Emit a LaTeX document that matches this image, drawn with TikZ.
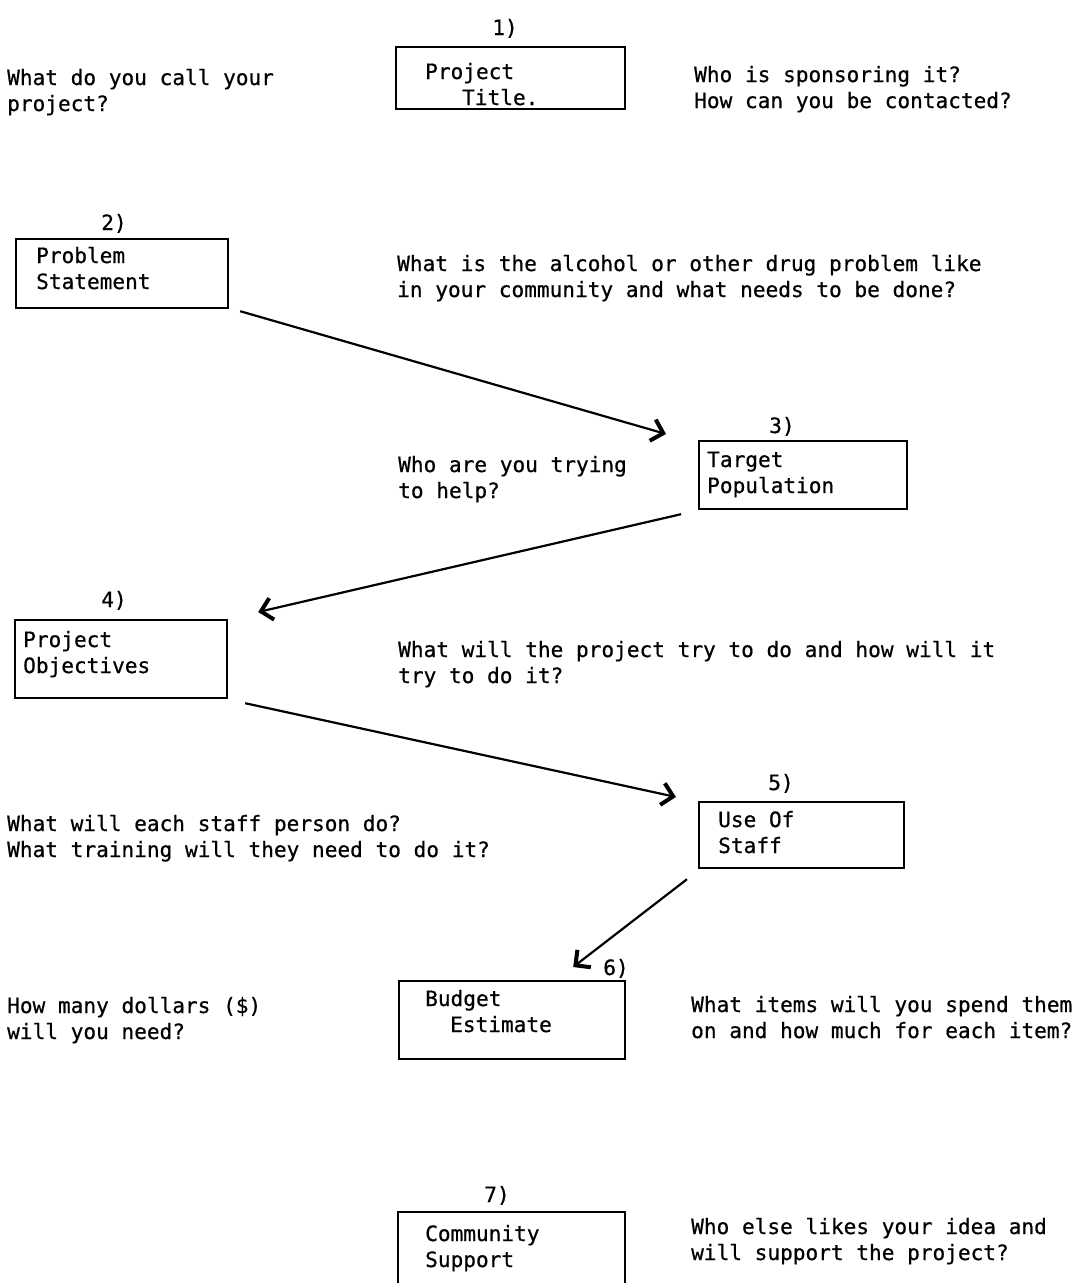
\documentclass[tikz,border=0pt]{standalone}
\usepackage{fontspec}
\setmainfont{DejaVu Sans Mono}[FakeBold=0.6]
\usetikzlibrary{arrows.meta,calc}
\begin{document}
\begin{tikzpicture}[x=1pt,y=-1pt,
  every node/.style={font=\fontsize{21.1}{26}\selectfont},
  box/.style={draw, line width=2.2pt, anchor=north west, inner sep=0pt},
  txt/.style={anchor=base west, inner sep=0pt, align=left},
  num/.style={anchor=base, inner sep=0pt},
  arr/.style={line width=2.2pt, -{Straight Barb[length=11pt,width=22pt,line width=4pt]}}]
\useasboundingbox (0,0) rectangle (1078,1283);
% boxes
\node[box, minimum width=229pt, minimum height=62pt] (b1) at (395,46) {};
\node[box, minimum width=212pt, minimum height=69pt] (b2) at (15,238) {};
\node[box, minimum width=208pt, minimum height=68pt] (b3) at (698,440) {};
\node[box, minimum width=212pt, minimum height=78pt] (b4) at (14,619) {};
\node[box, minimum width=205pt, minimum height=66pt] (b5) at (698,801) {};
\node[box, minimum width=226pt, minimum height=78pt] (b6) at (398,980) {};
\node[box, minimum width=227pt, minimum height=95pt] (b7) at (397,1211) {};
% numbers
\node[num] (n1) at (505,35) {1)};
\node[num] (n2) at (114,230) {2)};
\node[num] (n3) at (782,433) {3)};
\node[num] (n4) at (114,607) {4)};
\node[num] (n5) at (781,790) {5)};
\node[num] (n6) at (616,975) {6)};
\node[num] (n7) at (497,1202) {7)};
% box texts (base anchor = baseline of the last line)
\node[txt] (t1) at (425,105) {Project\\\hspace*{37pt}Title.};
\node[txt] (t2) at (36,289) {Problem\\Statement};
\node[txt] (t3) at (707,493) {Target\\Population};
\node[txt] (t4) at (23,673) {Project\\Objectives};
\node[txt] (t5) at (718,853) {Use Of\\Staff};
\node[txt] (t6) at (425,1032) {Budget\\\hspace*{25pt}Estimate};
\node[txt] (t7) at (425,1267) {Community\\Support};
% questions
\node[txt] (q1l) at (7,111) {What do you call your\\project?};
\node[txt] (q1r) at (694,108) {Who is sponsoring it?\\How can you be contacted?};
\node[txt] (q2) at (397,297) {What is the alcohol or other drug problem like\\in your community and what needs to be done?};
\node[txt] (q3) at (398,498) {Who are you trying\\to help?};
\node[txt] (q4) at (398,683) {What will the project try to do and how will it\\try to do it?};
\node[txt] (q5) at (7,857) {What will each staff person do?\\What training will they need to do it?};
\node[txt] (q6l) at (7,1039) {How many dollars (\$)\\will you need?};
\node[txt] (q6r) at (691,1038) {What items will you spend them\\on and how much for each item?};
\node[txt] (q7) at (691,1260) {Who else likes your idea and\\will support the project?};
% connectors
\draw[arr] ($(b2.south east)+(11,2)$) -- ($(b3.north west)+(-32,-6)$);
\draw[arr] ($(b3.south west)+(-17,4)$) -- ($(b4.north east)+(30,-7)$);
\draw[arr] ($(b4.south east)+(17,4)$) -- ($(b5.north west)+(-22,-4)$);
\draw[arr] ($(b5.south west)+(-11,10)$) -- ($(b6.north east)+(-53,-13)$);
\end{tikzpicture}
\end{document}
